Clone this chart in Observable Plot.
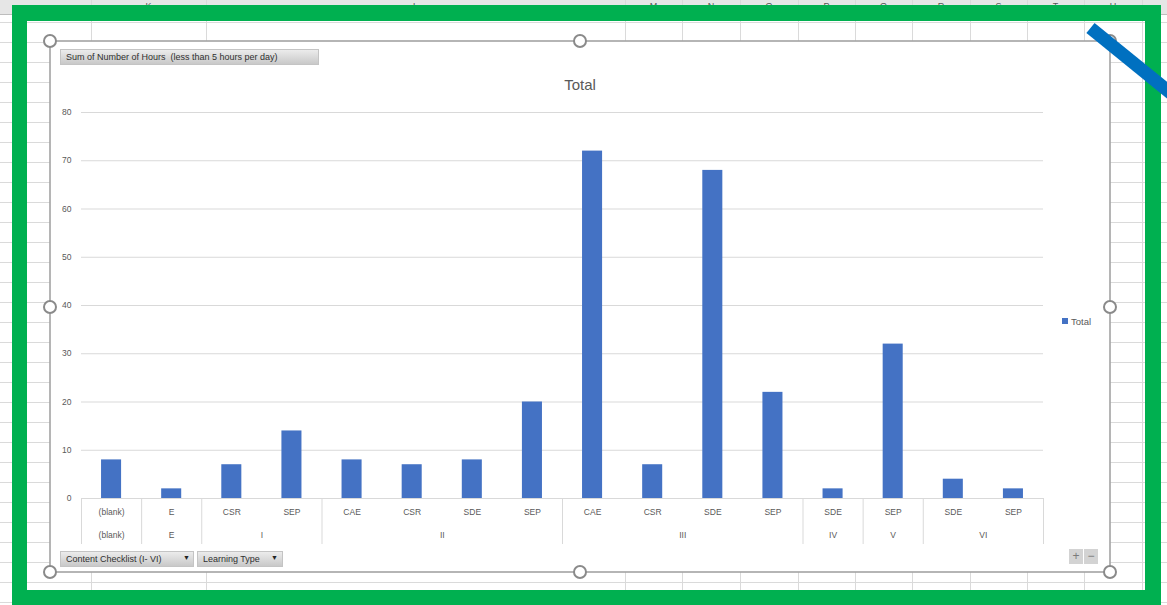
<!DOCTYPE html>
<html><head><meta charset="utf-8">
<script src="https://cdn.jsdelivr.net/npm/d3@7"></script>
<script src="https://cdn.jsdelivr.net/npm/@observablehq/plot@0.6"></script>
<style>
html,body{margin:0;padding:0;background:#fff;}
#root{position:relative;width:1167px;height:605px;overflow:hidden;font-family:"Liberation Sans",Arial,sans-serif;background:#fff;}
.abs{position:absolute;}
.btn{position:absolute;box-sizing:border-box;border:1px solid #c4c4c4;background:linear-gradient(#ececec,#c9c9c9);color:#303030;font-size:9px;white-space:pre;line-height:14px;padding-left:5px;}
.arrow{position:absolute;font-size:7px;color:#222;}
</style></head><body><div id="root"></div>
<script>
// ---- data ----
const groups = ["(blank)","E","I","I","II","II","II","II","III","III","III","III","IV","V","VI","VI"];
const types  = ["(blank)","E","CSR","SEP","CAE","CSR","SDE","SEP","CAE","CSR","SDE","SEP","SDE","SEP","SDE","SEP"];
const hours  = [8,2,7,14,8,7,8,20,72,7,68,22,2,32,4,2];
const yTicks = [0,10,20,30,40,50,60,70,80];
const seriesName = "Total";
const fieldButton = "Sum of Number of Hours  (less than 5 hours per day)";
const axisButtons = ["Content Checklist (I- VI)","Learning Type"];
// spreadsheet decoration
const sheetCols = [91,206,625,682,740,798,855,912,970,1027,1084,1142];
const sheetLetters = ["K","L","M","N","O","P","Q","R","S","T","U"];

const root = document.getElementById("root");
const NS = "http://www.w3.org/2000/svg";

// ---- spreadsheet background ----
const bg = document.createElementNS(NS,"svg");
bg.setAttribute("width",1167); bg.setAttribute("height",605);
bg.style.position="absolute"; bg.style.left="0"; bg.style.top="0";
let s = `<rect x="0" y="0" width="1167" height="14" fill="#e6e6e6"/><line x1="0" x2="1167" y1="14.5" y2="14.5" stroke="#bdbdbd"/>`;
for (let y = 22.5; y < 605; y += 20) s += `<line x1="0" x2="1167" y1="${y}" y2="${y}" stroke="#dadada"/>`;
sheetCols.forEach(x => { s += `<line x1="${x+0.5}" x2="${x+0.5}" y1="0" y2="605" stroke="#dadada"/>`; });
sheetLetters.forEach((L,k) => { const cx=(sheetCols[k]+sheetCols[k+1])/2; s += `<text x="${cx}" y="9" font-size="9" fill="#555" text-anchor="middle" font-family="Liberation Sans">${L}</text>`; });
bg.innerHTML = s;
root.appendChild(bg);

// green frame
const green = document.createElement("div");
green.className="abs";
Object.assign(green.style,{left:"12px",top:"5px",width:"1149px",height:"601px",boxSizing:"border-box",borderStyle:"solid",borderColor:"#00b050",borderWidth:"16px 16px 16px 15px"});
root.appendChild(green);

// chart area
const area = document.createElement("div");
area.className="abs";
Object.assign(area.style,{left:"50px",top:"41px",width:"1060px",height:"531px",background:"#fff"});
root.appendChild(area);

// ---- the chart ----
const rows = types.map((t,i)=>({i, type:t, group:groups[i], hours:hours[i]}));
const spans = [];
rows.forEach(r => { const last = spans[spans.length-1]; if (last && last.name===r.group) last.end=r.i; else spans.push({name:r.group,start:r.i,end:r.i}); });
const bounds = [0, ...spans.map(sp=>sp.end+1)];

const chart = Plot.plot({
  width:1010, height:490, marginLeft:31, marginRight:17, marginTop:42, marginBottom:62,
  style:{background:"transparent", color:"#595959", fontFamily:"Liberation Sans, Arial, sans-serif", fontSize:"9px", overflow:"visible"},
  x:{domain:[0, types.length], axis:null},
  y:{domain:[0,80], label:null},
  marks:[
    Plot.ruleY(yTicks, {stroke:"#d9d9d9", strokeWidth:1}),
    Plot.axisY(yTicks, {tickSize:0, tickPadding:10, fontSize:8.5, fill:"#595959", label:null}),
    Plot.rect(rows, {x1:d=>d.i+1/3, x2:d=>d.i+2/3, y1:()=>0, y2:"hours", fill:"#4472c4"}),
    Plot.ruleX(bounds, {x:d=>d, stroke:"#d9d9d9", insetTop:386, insetBottom:-46}),
    Plot.text(rows, {x:d=>d.i+0.5, frameAnchor:"bottom", dy:16, text:"type", fill:"#595959", fontSize:8.5}),
    Plot.text(spans, {x:d=>(d.start+d.end+1)/2, frameAnchor:"bottom", dy:39, text:"name", fill:"#595959", fontSize:8.5})
  ]
});
chart.style.position="absolute"; chart.style.left="50px"; chart.style.top="70px";
root.appendChild(chart);

// title
const title = document.createElement("div");
title.className="abs"; title.textContent = seriesName;
Object.assign(title.style,{left:"480px",width:"200px",top:"76px",textAlign:"center",fontSize:"15px",color:"#595959"});
root.appendChild(title);

// legend
const leg = document.createElement("div");
leg.className="abs";
leg.innerHTML = `<span style="display:inline-block;width:6px;height:6px;background:#4472c4;margin-right:3px;vertical-align:1px"></span>${seriesName}`;
Object.assign(leg.style,{left:"1062px",top:"316px",fontSize:"9.5px",color:"#595959"});
root.appendChild(leg);

// pivot buttons
function btn(text,x,y,w,h,arrowX){
  const b=document.createElement("div"); b.className="btn"; b.textContent=text;
  Object.assign(b.style,{left:x+"px",top:y+"px",width:w+"px",height:h+"px"});
  root.appendChild(b);
  if (arrowX){ const a=document.createElement("div"); a.className="arrow"; a.textContent="▼"; Object.assign(a.style,{left:arrowX+"px",top:(y+3)+"px"}); root.appendChild(a); }
}
btn(fieldButton,60,49,259,16);
btn(axisButtons[0],60,551,134,16,183);
btn(axisButtons[1],197,551,86,16,271);
const pm = document.createElement("div"); pm.className="abs";
pm.innerHTML = `<div style="position:absolute;left:0;top:0;width:14px;height:15px;background:#d3d3d3;color:#7a7a7a;font-size:12px;text-align:center;line-height:15px">+</div><div style="position:absolute;left:15px;top:0;width:14px;height:15px;background:#d3d3d3;color:#7a7a7a;font-size:12px;text-align:center;line-height:14px">−</div>`;
Object.assign(pm.style,{left:"1069px",top:"549px"});
root.appendChild(pm);

// overlay: border, handles, blue arrow
const ov = document.createElementNS(NS,"svg");
ov.setAttribute("width",1167); ov.setAttribute("height",605);
ov.style.position="absolute"; ov.style.left="0"; ov.style.top="0"; ov.style.pointerEvents="none";
let o = `<rect x="50" y="41" width="1060" height="531" fill="none" stroke="#a3a3a3" stroke-width="1.6"/>`;
[[50,41],[580,41],[1110,41],[50,307],[1110,307],[50,572],[580,572],[1110,572]].forEach(([cx,cy])=>{
  o += `<circle cx="${cx}" cy="${cy}" r="6" fill="#fff" stroke="#8a8a8a" stroke-width="2"/>`;
});
o += `<line x1="1090.5" y1="28" x2="1200" y2="117" stroke="#0070c0" stroke-width="13"/>`;
ov.innerHTML = o;
root.appendChild(ov);
</script>
</body></html>
